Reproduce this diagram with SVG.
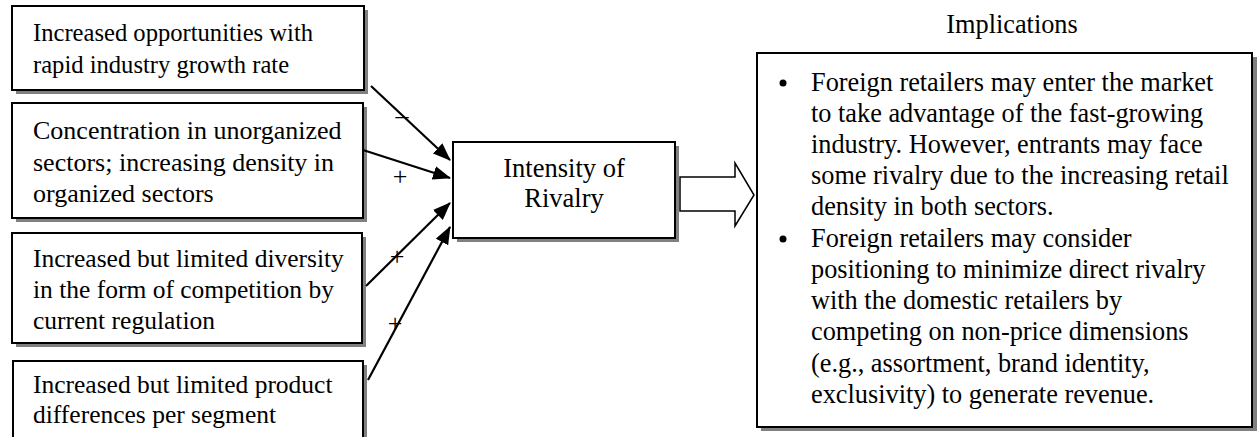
<svg xmlns="http://www.w3.org/2000/svg" width="1258" height="437" viewBox="0 0 1258 437">
  <style>
    .box { fill: #ffffff; stroke: #000000; stroke-width: 2; }
    .shadow { fill: #808080; stroke: none; }
    .t { font-family: "Liberation Serif", "Times New Roman", serif; font-size: 26px; fill: #000000; }
    .s1 { font-size: 24.6px; }
    .s3 { font-size: 25.5px; }
    .sr { font-size: 26.3px; }
    .si { font-size: 26.5px; }
    .c { text-anchor: middle; }
    .conn { stroke: #000000; stroke-width: 2.2; fill: none; marker-end: url(#ah); }
  </style>
  <defs>
    <marker id="ah" markerUnits="userSpaceOnUse" markerWidth="18" markerHeight="14" refX="17" refY="7" orient="auto">
      <path d="M0,0 L18,7 L0,14 Z" fill="#000000"/>
    </marker>
  </defs>
  <rect width="1258" height="437" fill="#ffffff"/>

  <g id="node-growth">
    <rect class="shadow" x="16" y="10" width="352" height="84"/>
    <rect class="box" x="12" y="6" width="352" height="84"/>
    <text class="t s1" x="33" y="41">Increased opportunities with</text>
    <text class="t s1" x="33" y="73">rapid industry growth rate</text>
  </g>

  <g id="node-concentration">
    <rect class="shadow" x="16" y="107" width="351" height="115"/>
    <rect class="box" x="12" y="103" width="351" height="115"/>
    <text class="t" x="33" y="139">Concentration in unorganized</text>
    <text class="t" x="33" y="171">sectors; increasing density in</text>
    <text class="t" x="33" y="202">organized sectors</text>
  </g>

  <g id="node-diversity">
    <rect class="shadow" x="16" y="237" width="350" height="110"/>
    <rect class="box" x="12" y="233" width="350" height="110"/>
    <text class="t s3" x="33" y="267">Increased but limited diversity</text>
    <text class="t s3" x="33" y="298">in the form of competition by</text>
    <text class="t s3" x="33" y="329">current regulation</text>
  </g>

  <g id="node-product">
    <rect class="shadow" x="17" y="365" width="350" height="90"/>
    <rect class="box" x="13" y="361" width="350" height="90"/>
    <text class="t s3" x="33" y="393">Increased but limited product</text>
    <text class="t s3" x="33" y="423">differences per segment</text>
  </g>

  <g id="node-rivalry">
    <rect class="shadow" x="457" y="146" width="222" height="96"/>
    <rect class="box" x="453" y="142" width="222" height="96"/>
    <text class="t si c" x="564" y="177">Intensity of</text>
    <text class="t si c" x="564" y="207">Rivalry</text>
  </g>

  <g id="node-implications">
    <text class="t sr c" x="1012" y="33">Implications</text>
    <rect class="shadow" x="761" y="57" width="496" height="374"/>
    <rect class="box" x="757" y="53" width="495" height="374"/>
    <circle cx="783" cy="83" r="3.5" fill="#000000"/>
    <text class="t sr" x="811" y="91">Foreign retailers may enter the market</text>
    <text class="t sr" x="811" y="122">to take advantage of the fast-growing</text>
    <text class="t sr" x="811" y="153">industry. However, entrants may face</text>
    <text class="t sr" x="811" y="184">some rivalry due to the increasing retail</text>
    <text class="t sr" x="811" y="215">density in both sectors.</text>
    <circle cx="783" cy="239" r="3.5" fill="#000000"/>
    <text class="t sr" x="811" y="247">Foreign retailers may consider</text>
    <text class="t sr" x="811" y="278">positioning to minimize direct rivalry</text>
    <text class="t sr" x="811" y="309">with the domestic retailers by</text>
    <text class="t sr" x="811" y="340">competing on non-price dimensions</text>
    <text class="t sr" x="811" y="372">(e.g., assortment, brand identity,</text>
    <text class="t sr" x="811" y="403">exclusivity) to generate revenue.</text>
  </g>

  <g id="connectors">
    <line class="conn" x1="371" y1="86" x2="450" y2="160"/>
    <line class="conn" x1="363" y1="150" x2="450" y2="178"/>
    <line class="conn" x1="366" y1="286" x2="450" y2="203"/>
    <line class="conn" x1="368" y1="380" x2="450" y2="227"/>
    <path d="M680,177 L735,177 L735,163 L754,195 L735,226 L735,211 L680,211 Z" fill="#ffffff" stroke="#000000" stroke-width="1.5"/>
    <text class="t c" x="402" y="124">–</text>
    <text class="t c" x="400" y="185">+</text>
    <text class="t c" x="397" y="265">+</text>
    <text class="t c" x="395" y="332">+</text>
  </g>
</svg>
